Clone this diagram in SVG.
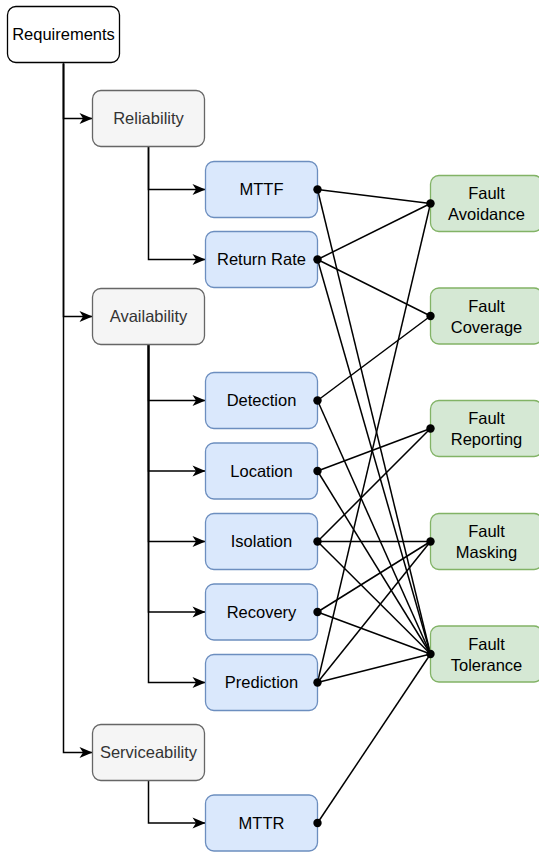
<svg xmlns="http://www.w3.org/2000/svg" width="539" height="852" viewBox="0 0 539 852">
<defs>
<style>
.n rect{stroke-width:1.3}
.req rect{fill:#ffffff;stroke:#000000}
.grp rect{fill:#f5f5f5;stroke:#666666}
.blu rect{fill:#dae8fc;stroke:#6c8ebf}
.grn rect{fill:#d5e8d4;stroke:#82b366}
text{font-family:"Liberation Sans",Arial,Helvetica,sans-serif;font-size:16.5px;text-anchor:middle;fill:#000000}
.grp text{fill:#333333}
.e path{fill:none;stroke:#000000;stroke-width:1.5}
.e line{stroke:#000000;stroke-width:1.5}
.d circle{fill:#000000}
</style>
<marker id="arr" markerWidth="14" markerHeight="12" viewBox="0 0 14 12" refX="13.5" refY="6" orient="auto" markerUnits="userSpaceOnUse">
<path d="M13.5,6 L0.5,0.5 L4,6 L0.5,11.5 Z" fill="#000000"/>
</marker>
</defs>
<rect width="539" height="852" fill="#ffffff"/>

<g id="connectors" class="e">
<path d="M63.5,63.5 V118.5 H92.5" marker-end="url(#arr)"/>
<path d="M63.5,63.5 V316.5 H92.5" marker-end="url(#arr)"/>
<path d="M63.5,63.5 V752.5 H92.5" marker-end="url(#arr)"/>
<path d="M148.5,146.5 V189.5 H205.5" marker-end="url(#arr)"/>
<path d="M148.5,146.5 V259.5 H205.5" marker-end="url(#arr)"/>
<path d="M148.5,344.5 V400.5 H205.5" marker-end="url(#arr)"/>
<path d="M148.5,344.5 V471 H205.5" marker-end="url(#arr)"/>
<path d="M148.5,344.5 V541.5 H205.5" marker-end="url(#arr)"/>
<path d="M148.5,344.5 V612 H205.5" marker-end="url(#arr)"/>
<path d="M148.5,344.5 V682.5 H205.5" marker-end="url(#arr)"/>
<path d="M148.5,780.5 V823 H205.5" marker-end="url(#arr)"/>

<line x1="317.5" y1="189.5" x2="430.5" y2="203.5"/>
<line x1="317.5" y1="189.5" x2="430.5" y2="654"/>
<line x1="317.5" y1="259.5" x2="430.5" y2="203.5"/>
<line x1="317.5" y1="259.5" x2="430.5" y2="316"/>
<line x1="317.5" y1="259.5" x2="430.5" y2="654"/>
<line x1="317.5" y1="400.5" x2="430.5" y2="316"/>
<line x1="317.5" y1="400.5" x2="430.5" y2="654"/>
<line x1="317.5" y1="471" x2="430.5" y2="428.5"/>
<line x1="317.5" y1="471" x2="430.5" y2="654"/>
<line x1="317.5" y1="541.5" x2="430.5" y2="428.5"/>
<line x1="317.5" y1="541.5" x2="430.5" y2="541.5"/>
<line x1="317.5" y1="541.5" x2="430.5" y2="654"/>
<line x1="317.5" y1="612" x2="430.5" y2="541.5"/>
<line x1="317.5" y1="612" x2="430.5" y2="654"/>
<line x1="317.5" y1="682.5" x2="430.5" y2="203.5"/>
<line x1="317.5" y1="682.5" x2="430.5" y2="541.5"/>
<line x1="317.5" y1="682.5" x2="430.5" y2="654"/>
<line x1="317.5" y1="823" x2="430.5" y2="654"/>
</g>

<g id="requirements" class="n req"><rect x="7.5" y="6.5" width="112" height="56" rx="8.4"/><text x="63.5" y="40">Requirements</text></g>
<g id="reliability" class="n grp"><rect x="92.5" y="90.5" width="112" height="56" rx="8.4"/><text x="148.5" y="124">Reliability</text></g>
<g id="availability" class="n grp"><rect x="92.5" y="288.5" width="112" height="56" rx="8.4"/><text x="148.5" y="322">Availability</text></g>
<g id="serviceability" class="n grp"><rect x="92.5" y="724.5" width="112" height="56" rx="8.4"/><text x="148.5" y="758">Serviceability</text></g>

<g id="mttf" class="n blu"><rect x="205.5" y="161.5" width="112" height="56" rx="8.4"/><text x="261.5" y="195">MTTF</text></g>
<g id="return-rate" class="n blu"><rect x="205.5" y="231.5" width="112" height="56" rx="8.4"/><text x="261.5" y="265">Return Rate</text></g>
<g id="detection" class="n blu"><rect x="205.5" y="372.5" width="112" height="56" rx="8.4"/><text x="261.5" y="406">Detection</text></g>
<g id="location" class="n blu"><rect x="205.5" y="443" width="112" height="56" rx="8.4"/><text x="261.5" y="476.5">Location</text></g>
<g id="isolation" class="n blu"><rect x="205.5" y="513.5" width="112" height="56" rx="8.4"/><text x="261.5" y="547">Isolation</text></g>
<g id="recovery" class="n blu"><rect x="205.5" y="584" width="112" height="56" rx="8.4"/><text x="261.5" y="617.5">Recovery</text></g>
<g id="prediction" class="n blu"><rect x="205.5" y="654.5" width="112" height="56" rx="8.4"/><text x="261.5" y="688">Prediction</text></g>
<g id="mttr" class="n blu"><rect x="205.5" y="795" width="112" height="56" rx="8.4"/><text x="261.5" y="828.5">MTTR</text></g>

<g id="fault-avoidance" class="n grn"><rect x="430.5" y="175.5" width="112" height="56" rx="8.4"/><text x="486.5" y="199.3">Fault</text><text x="486.5" y="220">Avoidance</text></g>
<g id="fault-coverage" class="n grn"><rect x="430.5" y="288" width="112" height="56" rx="8.4"/><text x="486.5" y="311.8">Fault</text><text x="486.5" y="332.5">Coverage</text></g>
<g id="fault-reporting" class="n grn"><rect x="430.5" y="400.5" width="112" height="56" rx="8.4"/><text x="486.5" y="424.3">Fault</text><text x="486.5" y="445">Reporting</text></g>
<g id="fault-masking" class="n grn"><rect x="430.5" y="513.5" width="112" height="56" rx="8.4"/><text x="486.5" y="537.3">Fault</text><text x="486.5" y="558">Masking</text></g>
<g id="fault-tolerance" class="n grn"><rect x="430.5" y="626" width="112" height="56" rx="8.4"/><text x="486.5" y="649.8">Fault</text><text x="486.5" y="670.5">Tolerance</text></g>

<g id="endpoints" class="d">
<circle cx="317.5" cy="189.5" r="4.2"/>
<circle cx="317.5" cy="259.5" r="4.2"/>
<circle cx="317.5" cy="400.5" r="4.2"/>
<circle cx="317.5" cy="471" r="4.2"/>
<circle cx="317.5" cy="541.5" r="4.2"/>
<circle cx="317.5" cy="612" r="4.2"/>
<circle cx="317.5" cy="682.5" r="4.2"/>
<circle cx="317.5" cy="823" r="4.2"/>
<circle cx="430.5" cy="203.5" r="4.2"/>
<circle cx="430.5" cy="316" r="4.2"/>
<circle cx="430.5" cy="428.5" r="4.2"/>
<circle cx="430.5" cy="541.5" r="4.2"/>
<circle cx="430.5" cy="654" r="4.2"/>
</g>
</svg>
